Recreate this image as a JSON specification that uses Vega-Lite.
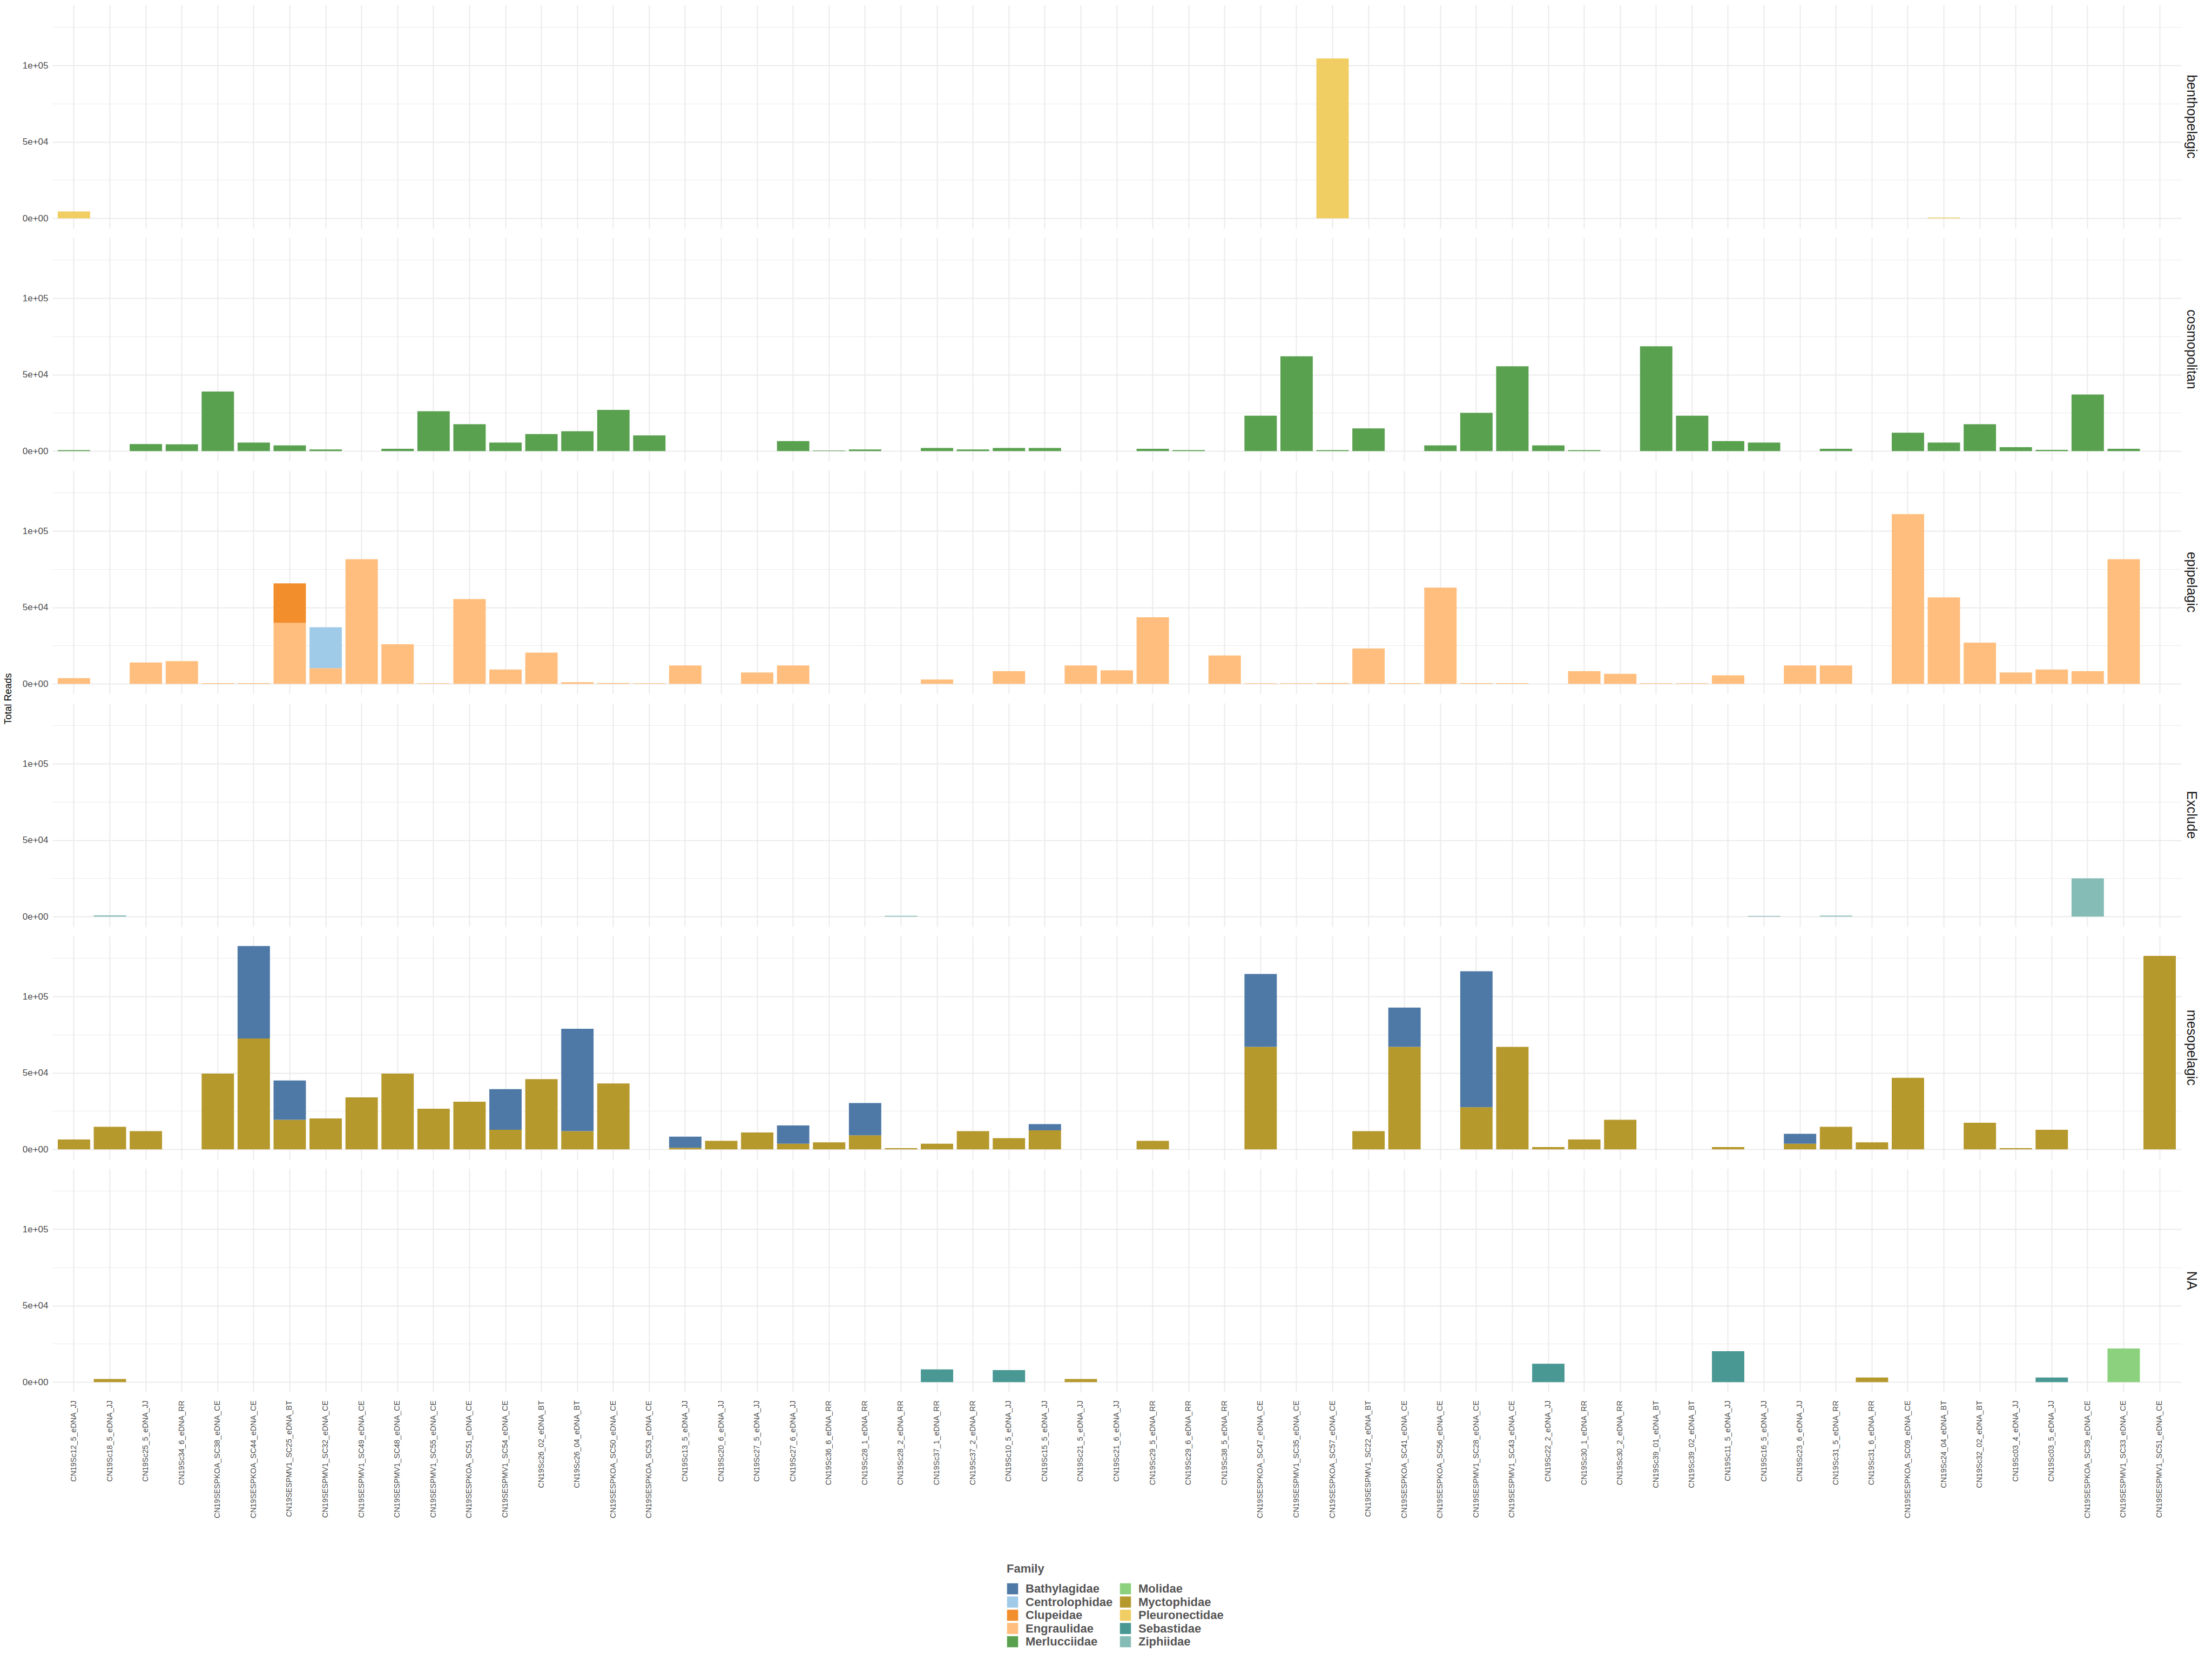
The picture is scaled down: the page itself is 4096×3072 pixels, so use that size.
{
"$schema": "https://vega.github.io/schema/vega-lite/v6.json",
"background": "white",
"padding": {"left": 6, "top": 9, "right": 6, "bottom": 4},
"data": {"values": [
{"habitat":"benthopelagic","sample":"CN19Sc12_5_eDNA_JJ","family":"Pleuronectidae","reads":4500},
{"habitat":"benthopelagic","sample":"CN19SESPKOA_SC57_eDNA_CE","family":"Pleuronectidae","reads":104600},
{"habitat":"benthopelagic","sample":"CN19Sc24_04_eDNA_BT","family":"Pleuronectidae","reads":500},

{"habitat":"cosmopolitan","sample":"CN19Sc12_5_eDNA_JJ","family":"Merlucciidae","reads":600},
{"habitat":"cosmopolitan","sample":"CN19Sc25_5_eDNA_JJ","family":"Merlucciidae","reads":4600},
{"habitat":"cosmopolitan","sample":"CN19Sc34_6_eDNA_RR","family":"Merlucciidae","reads":4400},
{"habitat":"cosmopolitan","sample":"CN19SESPKOA_SC38_eDNA_CE","family":"Merlucciidae","reads":38900},
{"habitat":"cosmopolitan","sample":"CN19SESPKOA_SC44_eDNA_CE","family":"Merlucciidae","reads":5500},
{"habitat":"cosmopolitan","sample":"CN19SESPMV1_SC25_eDNA_BT","family":"Merlucciidae","reads":3700},
{"habitat":"cosmopolitan","sample":"CN19SESPMV1_SC32_eDNA_CE","family":"Merlucciidae","reads":1000},
{"habitat":"cosmopolitan","sample":"CN19SESPMV1_SC48_eDNA_CE","family":"Merlucciidae","reads":1500},
{"habitat":"cosmopolitan","sample":"CN19SESPMV1_SC55_eDNA_CE","family":"Merlucciidae","reads":26000},
{"habitat":"cosmopolitan","sample":"CN19SESPKOA_SC51_eDNA_CE","family":"Merlucciidae","reads":17600},
{"habitat":"cosmopolitan","sample":"CN19SESPMV1_SC54_eDNA_CE","family":"Merlucciidae","reads":5500},
{"habitat":"cosmopolitan","sample":"CN19Sc26_02_eDNA_BT","family":"Merlucciidae","reads":11100},
{"habitat":"cosmopolitan","sample":"CN19Sc26_04_eDNA_BT","family":"Merlucciidae","reads":13000},
{"habitat":"cosmopolitan","sample":"CN19SESPKOA_SC50_eDNA_CE","family":"Merlucciidae","reads":26900},
{"habitat":"cosmopolitan","sample":"CN19SESPKOA_SC53_eDNA_CE","family":"Merlucciidae","reads":10200},
{"habitat":"cosmopolitan","sample":"CN19Sc27_6_eDNA_JJ","family":"Merlucciidae","reads":6500},
{"habitat":"cosmopolitan","sample":"CN19Sc36_6_eDNA_RR","family":"Merlucciidae","reads":300},
{"habitat":"cosmopolitan","sample":"CN19Sc28_1_eDNA_RR","family":"Merlucciidae","reads":1000},
{"habitat":"cosmopolitan","sample":"CN19Sc37_1_eDNA_RR","family":"Merlucciidae","reads":2000},
{"habitat":"cosmopolitan","sample":"CN19Sc37_2_eDNA_RR","family":"Merlucciidae","reads":1000},
{"habitat":"cosmopolitan","sample":"CN19Sc10_5_eDNA_JJ","family":"Merlucciidae","reads":2000},
{"habitat":"cosmopolitan","sample":"CN19Sc15_5_eDNA_JJ","family":"Merlucciidae","reads":2000},
{"habitat":"cosmopolitan","sample":"CN19Sc29_5_eDNA_RR","family":"Merlucciidae","reads":1500},
{"habitat":"cosmopolitan","sample":"CN19Sc29_6_eDNA_RR","family":"Merlucciidae","reads":600},
{"habitat":"cosmopolitan","sample":"CN19SESPKOA_SC47_eDNA_CE","family":"Merlucciidae","reads":23100},
{"habitat":"cosmopolitan","sample":"CN19SESPMV1_SC35_eDNA_CE","family":"Merlucciidae","reads":62000},
{"habitat":"cosmopolitan","sample":"CN19SESPKOA_SC57_eDNA_CE","family":"Merlucciidae","reads":600},
{"habitat":"cosmopolitan","sample":"CN19SESPMV1_SC22_eDNA_BT","family":"Merlucciidae","reads":14800},
{"habitat":"cosmopolitan","sample":"CN19SESPKOA_SC56_eDNA_CE","family":"Merlucciidae","reads":3700},
{"habitat":"cosmopolitan","sample":"CN19SESPMV1_SC28_eDNA_CE","family":"Merlucciidae","reads":25000},
{"habitat":"cosmopolitan","sample":"CN19SESPMV1_SC43_eDNA_CE","family":"Merlucciidae","reads":55500},
{"habitat":"cosmopolitan","sample":"CN19Sc22_2_eDNA_JJ","family":"Merlucciidae","reads":3700},
{"habitat":"cosmopolitan","sample":"CN19Sc30_1_eDNA_RR","family":"Merlucciidae","reads":600},
{"habitat":"cosmopolitan","sample":"CN19Sc39_01_eDNA_BT","family":"Merlucciidae","reads":68500},
{"habitat":"cosmopolitan","sample":"CN19Sc39_02_eDNA_BT","family":"Merlucciidae","reads":23100},
{"habitat":"cosmopolitan","sample":"CN19Sc11_5_eDNA_JJ","family":"Merlucciidae","reads":6500},
{"habitat":"cosmopolitan","sample":"CN19Sc16_5_eDNA_JJ","family":"Merlucciidae","reads":5500},
{"habitat":"cosmopolitan","sample":"CN19Sc31_5_eDNA_RR","family":"Merlucciidae","reads":1500},
{"habitat":"cosmopolitan","sample":"CN19SESPKOA_SC09_eDNA_CE","family":"Merlucciidae","reads":12000},
{"habitat":"cosmopolitan","sample":"CN19Sc24_04_eDNA_BT","family":"Merlucciidae","reads":5500},
{"habitat":"cosmopolitan","sample":"CN19Sc32_02_eDNA_BT","family":"Merlucciidae","reads":17600},
{"habitat":"cosmopolitan","sample":"CN19Sc03_4_eDNA_JJ","family":"Merlucciidae","reads":2500},
{"habitat":"cosmopolitan","sample":"CN19Sc03_5_eDNA_JJ","family":"Merlucciidae","reads":800},
{"habitat":"cosmopolitan","sample":"CN19SESPKOA_SC39_eDNA_CE","family":"Merlucciidae","reads":37000},
{"habitat":"cosmopolitan","sample":"CN19SESPMV1_SC33_eDNA_CE","family":"Merlucciidae","reads":1500},

{"habitat":"epipelagic","sample":"CN19Sc12_5_eDNA_JJ","family":"Engraulidae","reads":3700},
{"habitat":"epipelagic","sample":"CN19Sc25_5_eDNA_JJ","family":"Engraulidae","reads":13900},
{"habitat":"epipelagic","sample":"CN19Sc34_6_eDNA_RR","family":"Engraulidae","reads":14800},
{"habitat":"epipelagic","sample":"CN19SESPKOA_SC38_eDNA_CE","family":"Engraulidae","reads":400},
{"habitat":"epipelagic","sample":"CN19SESPKOA_SC44_eDNA_CE","family":"Engraulidae","reads":400},
{"habitat":"epipelagic","sample":"CN19SESPMV1_SC25_eDNA_BT","family":"Engraulidae","reads":39800},
{"habitat":"epipelagic","sample":"CN19SESPMV1_SC25_eDNA_BT","family":"Clupeidae","reads":25900},
{"habitat":"epipelagic","sample":"CN19SESPMV1_SC32_eDNA_CE","family":"Engraulidae","reads":10200},
{"habitat":"epipelagic","sample":"CN19SESPMV1_SC32_eDNA_CE","family":"Centrolophidae","reads":26800},
{"habitat":"epipelagic","sample":"CN19SESPMV1_SC49_eDNA_CE","family":"Engraulidae","reads":81500},
{"habitat":"epipelagic","sample":"CN19SESPMV1_SC48_eDNA_CE","family":"Engraulidae","reads":25900},
{"habitat":"epipelagic","sample":"CN19SESPMV1_SC55_eDNA_CE","family":"Engraulidae","reads":300},
{"habitat":"epipelagic","sample":"CN19SESPKOA_SC51_eDNA_CE","family":"Engraulidae","reads":55500},
{"habitat":"epipelagic","sample":"CN19SESPMV1_SC54_eDNA_CE","family":"Engraulidae","reads":9300},
{"habitat":"epipelagic","sample":"CN19Sc26_02_eDNA_BT","family":"Engraulidae","reads":20400},
{"habitat":"epipelagic","sample":"CN19Sc26_04_eDNA_BT","family":"Engraulidae","reads":1000},
{"habitat":"epipelagic","sample":"CN19SESPKOA_SC50_eDNA_CE","family":"Engraulidae","reads":500},
{"habitat":"epipelagic","sample":"CN19SESPKOA_SC53_eDNA_CE","family":"Engraulidae","reads":300},
{"habitat":"epipelagic","sample":"CN19Sc13_5_eDNA_JJ","family":"Engraulidae","reads":12000},
{"habitat":"epipelagic","sample":"CN19Sc27_5_eDNA_JJ","family":"Engraulidae","reads":7400},
{"habitat":"epipelagic","sample":"CN19Sc27_6_eDNA_JJ","family":"Engraulidae","reads":12000},
{"habitat":"epipelagic","sample":"CN19Sc37_1_eDNA_RR","family":"Engraulidae","reads":2800},
{"habitat":"epipelagic","sample":"CN19Sc10_5_eDNA_JJ","family":"Engraulidae","reads":8300},
{"habitat":"epipelagic","sample":"CN19Sc21_5_eDNA_JJ","family":"Engraulidae","reads":12000},
{"habitat":"epipelagic","sample":"CN19Sc21_6_eDNA_JJ","family":"Engraulidae","reads":8800},
{"habitat":"epipelagic","sample":"CN19Sc29_5_eDNA_RR","family":"Engraulidae","reads":43500},
{"habitat":"epipelagic","sample":"CN19Sc38_5_eDNA_RR","family":"Engraulidae","reads":18500},
{"habitat":"epipelagic","sample":"CN19SESPKOA_SC47_eDNA_CE","family":"Engraulidae","reads":300},
{"habitat":"epipelagic","sample":"CN19SESPMV1_SC35_eDNA_CE","family":"Engraulidae","reads":300},
{"habitat":"epipelagic","sample":"CN19SESPKOA_SC57_eDNA_CE","family":"Engraulidae","reads":500},
{"habitat":"epipelagic","sample":"CN19SESPMV1_SC22_eDNA_BT","family":"Engraulidae","reads":23100},
{"habitat":"epipelagic","sample":"CN19SESPKOA_SC41_eDNA_CE","family":"Engraulidae","reads":400},
{"habitat":"epipelagic","sample":"CN19SESPKOA_SC56_eDNA_CE","family":"Engraulidae","reads":63000},
{"habitat":"epipelagic","sample":"CN19SESPMV1_SC28_eDNA_CE","family":"Engraulidae","reads":400},
{"habitat":"epipelagic","sample":"CN19SESPMV1_SC43_eDNA_CE","family":"Engraulidae","reads":400},
{"habitat":"epipelagic","sample":"CN19Sc30_1_eDNA_RR","family":"Engraulidae","reads":8300},
{"habitat":"epipelagic","sample":"CN19Sc30_2_eDNA_RR","family":"Engraulidae","reads":6500},
{"habitat":"epipelagic","sample":"CN19Sc39_01_eDNA_BT","family":"Engraulidae","reads":300},
{"habitat":"epipelagic","sample":"CN19Sc39_02_eDNA_BT","family":"Engraulidae","reads":300},
{"habitat":"epipelagic","sample":"CN19Sc11_5_eDNA_JJ","family":"Engraulidae","reads":5500},
{"habitat":"epipelagic","sample":"CN19Sc23_6_eDNA_JJ","family":"Engraulidae","reads":12000},
{"habitat":"epipelagic","sample":"CN19Sc31_5_eDNA_RR","family":"Engraulidae","reads":12000},
{"habitat":"epipelagic","sample":"CN19SESPKOA_SC09_eDNA_CE","family":"Engraulidae","reads":111000},
{"habitat":"epipelagic","sample":"CN19Sc24_04_eDNA_BT","family":"Engraulidae","reads":56500},
{"habitat":"epipelagic","sample":"CN19Sc32_02_eDNA_BT","family":"Engraulidae","reads":26900},
{"habitat":"epipelagic","sample":"CN19Sc03_4_eDNA_JJ","family":"Engraulidae","reads":7400},
{"habitat":"epipelagic","sample":"CN19Sc03_5_eDNA_JJ","family":"Engraulidae","reads":9300},
{"habitat":"epipelagic","sample":"CN19SESPKOA_SC39_eDNA_CE","family":"Engraulidae","reads":8300},
{"habitat":"epipelagic","sample":"CN19SESPMV1_SC33_eDNA_CE","family":"Engraulidae","reads":81500},

{"habitat":"Exclude","sample":"CN19Sc18_5_eDNA_JJ","family":"Ziphiidae","reads":800},
{"habitat":"Exclude","sample":"CN19Sc28_2_eDNA_RR","family":"Ziphiidae","reads":500},
{"habitat":"Exclude","sample":"CN19Sc16_5_eDNA_JJ","family":"Ziphiidae","reads":400},
{"habitat":"Exclude","sample":"CN19Sc31_5_eDNA_RR","family":"Ziphiidae","reads":600},
{"habitat":"Exclude","sample":"CN19SESPKOA_SC39_eDNA_CE","family":"Ziphiidae","reads":25000},

{"habitat":"mesopelagic","sample":"CN19Sc12_5_eDNA_JJ","family":"Myctophidae","reads":6400},
{"habitat":"mesopelagic","sample":"CN19Sc18_5_eDNA_JJ","family":"Myctophidae","reads":14700},
{"habitat":"mesopelagic","sample":"CN19Sc25_5_eDNA_JJ","family":"Myctophidae","reads":11900},
{"habitat":"mesopelagic","sample":"CN19SESPKOA_SC38_eDNA_CE","family":"Myctophidae","reads":49500},
{"habitat":"mesopelagic","sample":"CN19SESPKOA_SC44_eDNA_CE","family":"Myctophidae","reads":72500},
{"habitat":"mesopelagic","sample":"CN19SESPKOA_SC44_eDNA_CE","family":"Bathylagidae","reads":60500},
{"habitat":"mesopelagic","sample":"CN19SESPMV1_SC25_eDNA_BT","family":"Myctophidae","reads":19300},
{"habitat":"mesopelagic","sample":"CN19SESPMV1_SC25_eDNA_BT","family":"Bathylagidae","reads":25700},
{"habitat":"mesopelagic","sample":"CN19SESPMV1_SC32_eDNA_CE","family":"Myctophidae","reads":20200},
{"habitat":"mesopelagic","sample":"CN19SESPMV1_SC49_eDNA_CE","family":"Myctophidae","reads":34000},
{"habitat":"mesopelagic","sample":"CN19SESPMV1_SC48_eDNA_CE","family":"Myctophidae","reads":49500},
{"habitat":"mesopelagic","sample":"CN19SESPMV1_SC55_eDNA_CE","family":"Myctophidae","reads":26600},
{"habitat":"mesopelagic","sample":"CN19SESPKOA_SC51_eDNA_CE","family":"Myctophidae","reads":31200},
{"habitat":"mesopelagic","sample":"CN19SESPMV1_SC54_eDNA_CE","family":"Myctophidae","reads":12800},
{"habitat":"mesopelagic","sample":"CN19SESPMV1_SC54_eDNA_CE","family":"Bathylagidae","reads":26600},
{"habitat":"mesopelagic","sample":"CN19Sc26_02_eDNA_BT","family":"Myctophidae","reads":45900},
{"habitat":"mesopelagic","sample":"CN19Sc26_04_eDNA_BT","family":"Myctophidae","reads":11900},
{"habitat":"mesopelagic","sample":"CN19Sc26_04_eDNA_BT","family":"Bathylagidae","reads":67000},
{"habitat":"mesopelagic","sample":"CN19SESPKOA_SC50_eDNA_CE","family":"Myctophidae","reads":43100},
{"habitat":"mesopelagic","sample":"CN19Sc13_5_eDNA_JJ","family":"Myctophidae","reads":1000},
{"habitat":"mesopelagic","sample":"CN19Sc13_5_eDNA_JJ","family":"Bathylagidae","reads":7300},
{"habitat":"mesopelagic","sample":"CN19Sc20_6_eDNA_JJ","family":"Myctophidae","reads":5500},
{"habitat":"mesopelagic","sample":"CN19Sc27_5_eDNA_JJ","family":"Myctophidae","reads":11000},
{"habitat":"mesopelagic","sample":"CN19Sc27_6_eDNA_JJ","family":"Myctophidae","reads":3700},
{"habitat":"mesopelagic","sample":"CN19Sc27_6_eDNA_JJ","family":"Bathylagidae","reads":11900},
{"habitat":"mesopelagic","sample":"CN19Sc36_6_eDNA_RR","family":"Myctophidae","reads":4600},
{"habitat":"mesopelagic","sample":"CN19Sc28_1_eDNA_RR","family":"Myctophidae","reads":9200},
{"habitat":"mesopelagic","sample":"CN19Sc28_1_eDNA_RR","family":"Bathylagidae","reads":21100},
{"habitat":"mesopelagic","sample":"CN19Sc28_2_eDNA_RR","family":"Myctophidae","reads":800},
{"habitat":"mesopelagic","sample":"CN19Sc37_1_eDNA_RR","family":"Myctophidae","reads":3700},
{"habitat":"mesopelagic","sample":"CN19Sc37_2_eDNA_RR","family":"Myctophidae","reads":11900},
{"habitat":"mesopelagic","sample":"CN19Sc10_5_eDNA_JJ","family":"Myctophidae","reads":7300},
{"habitat":"mesopelagic","sample":"CN19Sc15_5_eDNA_JJ","family":"Myctophidae","reads":12400},
{"habitat":"mesopelagic","sample":"CN19Sc15_5_eDNA_JJ","family":"Bathylagidae","reads":4100},
{"habitat":"mesopelagic","sample":"CN19Sc29_5_eDNA_RR","family":"Myctophidae","reads":5500},
{"habitat":"mesopelagic","sample":"CN19SESPKOA_SC47_eDNA_CE","family":"Myctophidae","reads":67000},
{"habitat":"mesopelagic","sample":"CN19SESPKOA_SC47_eDNA_CE","family":"Bathylagidae","reads":47700},
{"habitat":"mesopelagic","sample":"CN19SESPMV1_SC22_eDNA_BT","family":"Myctophidae","reads":11900},
{"habitat":"mesopelagic","sample":"CN19SESPKOA_SC41_eDNA_CE","family":"Myctophidae","reads":67000},
{"habitat":"mesopelagic","sample":"CN19SESPKOA_SC41_eDNA_CE","family":"Bathylagidae","reads":25700},
{"habitat":"mesopelagic","sample":"CN19SESPMV1_SC28_eDNA_CE","family":"Myctophidae","reads":27500},
{"habitat":"mesopelagic","sample":"CN19SESPMV1_SC28_eDNA_CE","family":"Bathylagidae","reads":89000},
{"habitat":"mesopelagic","sample":"CN19SESPMV1_SC43_eDNA_CE","family":"Myctophidae","reads":67000},
{"habitat":"mesopelagic","sample":"CN19Sc22_2_eDNA_JJ","family":"Myctophidae","reads":1500},
{"habitat":"mesopelagic","sample":"CN19Sc30_1_eDNA_RR","family":"Myctophidae","reads":6400},
{"habitat":"mesopelagic","sample":"CN19Sc30_2_eDNA_RR","family":"Myctophidae","reads":19300},
{"habitat":"mesopelagic","sample":"CN19Sc11_5_eDNA_JJ","family":"Myctophidae","reads":1500},
{"habitat":"mesopelagic","sample":"CN19Sc23_6_eDNA_JJ","family":"Myctophidae","reads":3700},
{"habitat":"mesopelagic","sample":"CN19Sc23_6_eDNA_JJ","family":"Bathylagidae","reads":6400},
{"habitat":"mesopelagic","sample":"CN19Sc31_5_eDNA_RR","family":"Myctophidae","reads":14700},
{"habitat":"mesopelagic","sample":"CN19Sc31_6_eDNA_RR","family":"Myctophidae","reads":4600},
{"habitat":"mesopelagic","sample":"CN19SESPKOA_SC09_eDNA_CE","family":"Myctophidae","reads":46800},
{"habitat":"mesopelagic","sample":"CN19Sc32_02_eDNA_BT","family":"Myctophidae","reads":17400},
{"habitat":"mesopelagic","sample":"CN19Sc03_4_eDNA_JJ","family":"Myctophidae","reads":800},
{"habitat":"mesopelagic","sample":"CN19Sc03_5_eDNA_JJ","family":"Myctophidae","reads":12800},
{"habitat":"mesopelagic","sample":"CN19SESPMV1_SC51_eDNA_CE","family":"Myctophidae","reads":126600},

{"habitat":"NA","sample":"CN19Sc18_5_eDNA_JJ","family":"Myctophidae","reads":2000},
{"habitat":"NA","sample":"CN19Sc37_1_eDNA_RR","family":"Sebastidae","reads":8300},
{"habitat":"NA","sample":"CN19Sc10_5_eDNA_JJ","family":"Sebastidae","reads":7800},
{"habitat":"NA","sample":"CN19Sc21_5_eDNA_JJ","family":"Myctophidae","reads":2000},
{"habitat":"NA","sample":"CN19Sc22_2_eDNA_JJ","family":"Sebastidae","reads":12000},
{"habitat":"NA","sample":"CN19Sc11_5_eDNA_JJ","family":"Sebastidae","reads":20200},
{"habitat":"NA","sample":"CN19Sc31_6_eDNA_RR","family":"Myctophidae","reads":3000},
{"habitat":"NA","sample":"CN19Sc03_5_eDNA_JJ","family":"Sebastidae","reads":3000},
{"habitat":"NA","sample":"CN19SESPMV1_SC33_eDNA_CE","family":"Molidae","reads":22000}
]},
"facet": {
  "row": {
    "field": "habitat", "type": "nominal",
    "sort": ["benthopelagic","cosmopolitan","epipelagic","Exclude","mesopelagic","NA"],
    "header": {
      "title": "Total Reads", "titleOrient": "left", "titleFontSize": 18, "titleFontWeight": "normal",
      "titleColor": "#000000", "titleFont": "Liberation Sans", "titlePadding": 6,
      "labelOrient": "right", "labelAngle": 90, "labelFontSize": 25, "labelColor": "#1A1A1A",
      "labelFont": "Liberation Sans", "labelPadding": 6
    }
  }
},
"spacing": 17,
"spec": {
  "width": 3942,
  "height": 414,
  "mark": {"type": "bar"},
  "encoding": {
    "x": {
      "field": "sample", "type": "nominal",
      "scale": {"domain": ["CN19Sc12_5_eDNA_JJ","CN19Sc18_5_eDNA_JJ","CN19Sc25_5_eDNA_JJ","CN19Sc34_6_eDNA_RR","CN19SESPKOA_SC38_eDNA_CE","CN19SESPKOA_SC44_eDNA_CE","CN19SESPMV1_SC25_eDNA_BT","CN19SESPMV1_SC32_eDNA_CE","CN19SESPMV1_SC49_eDNA_CE","CN19SESPMV1_SC48_eDNA_CE","CN19SESPMV1_SC55_eDNA_CE","CN19SESPKOA_SC51_eDNA_CE","CN19SESPMV1_SC54_eDNA_CE","CN19Sc26_02_eDNA_BT","CN19Sc26_04_eDNA_BT","CN19SESPKOA_SC50_eDNA_CE","CN19SESPKOA_SC53_eDNA_CE","CN19Sc13_5_eDNA_JJ","CN19Sc20_6_eDNA_JJ","CN19Sc27_5_eDNA_JJ","CN19Sc27_6_eDNA_JJ","CN19Sc36_6_eDNA_RR","CN19Sc28_1_eDNA_RR","CN19Sc28_2_eDNA_RR","CN19Sc37_1_eDNA_RR","CN19Sc37_2_eDNA_RR","CN19Sc10_5_eDNA_JJ","CN19Sc15_5_eDNA_JJ","CN19Sc21_5_eDNA_JJ","CN19Sc21_6_eDNA_JJ","CN19Sc29_5_eDNA_RR","CN19Sc29_6_eDNA_RR","CN19Sc38_5_eDNA_RR","CN19SESPKOA_SC47_eDNA_CE","CN19SESPMV1_SC35_eDNA_CE","CN19SESPKOA_SC57_eDNA_CE","CN19SESPMV1_SC22_eDNA_BT","CN19SESPKOA_SC41_eDNA_CE","CN19SESPKOA_SC56_eDNA_CE","CN19SESPMV1_SC28_eDNA_CE","CN19SESPMV1_SC43_eDNA_CE","CN19Sc22_2_eDNA_JJ","CN19Sc30_1_eDNA_RR","CN19Sc30_2_eDNA_RR","CN19Sc39_01_eDNA_BT","CN19Sc39_02_eDNA_BT","CN19Sc11_5_eDNA_JJ","CN19Sc16_5_eDNA_JJ","CN19Sc23_6_eDNA_JJ","CN19Sc31_5_eDNA_RR","CN19Sc31_6_eDNA_RR","CN19SESPKOA_SC09_eDNA_CE","CN19Sc24_04_eDNA_BT","CN19Sc32_02_eDNA_BT","CN19Sc03_4_eDNA_JJ","CN19Sc03_5_eDNA_JJ","CN19SESPKOA_SC39_eDNA_CE","CN19SESPMV1_SC33_eDNA_CE","CN19SESPMV1_SC51_eDNA_CE"],
        "paddingInner": 0.1, "paddingOuter": 0.15},
      "axis": {
        "title": null, "labelAngle": 270, "labelFontSize": 14, "labelColor": "#4D4D4D",
        "labelFont": "Liberation Sans", "ticks": false, "domain": false, "grid": true,
        "gridColor": "#EBEBEB", "gridWidth": 2, "bandPosition": 0.5, "labelPadding": 15,
        "labelOverlap": false, "labelLimit": 0
      }
    },
    "y": {
      "field": "reads", "type": "quantitative", "stack": "zero",
      "scale": {"domain": [-6650, 139650], "nice": false, "zero": false},
      "axis": {
        "title": null, "values": [0, 25000, 50000, 75000, 100000, 125000],
        "labelExpr": "datum.value === 0 ? '0e+00' : datum.value === 50000 ? '5e+04' : datum.value === 100000 ? '1e+05' : ''",
        "ticks": false, "domain": false, "labelFontSize": 17, "labelColor": "#4D4D4D",
        "labelFont": "Liberation Sans", "labelPadding": 8, "labelOverlap": false,
        "gridColor": "#EBEBEB",
        "gridWidth": {"condition": {"test": "datum.value % 50000 === 0", "value": 2}, "value": 1}
      }
    },
    "color": {
      "field": "family", "type": "nominal",
      "scale": {
        "domain": ["Bathylagidae","Centrolophidae","Clupeidae","Engraulidae","Merlucciidae","Molidae","Myctophidae","Pleuronectidae","Sebastidae","Ziphiidae"],
        "range": ["#4E79A7","#A0CBE8","#F28E2B","#FFBE7D","#59A14F","#8CD17D","#B6992D","#F1CE63","#499894","#86BCB6"]
      },
      "legend": {
        "orient": "none", "legendX": 1767, "legendY": 2886, "direction": "vertical", "columns": 2,
        "title": "Family", "titleFontSize": 22, "titleFontWeight": "bold", "titleColor": "#555555",
        "titleFont": "Liberation Sans", "titlePadding": 14,
        "labelFontSize": 22, "labelFontWeight": "bold", "labelColor": "#555555", "labelFont": "Liberation Sans",
        "labelLimit": 0,
        "symbolType": "square", "symbolSize": 420, "symbolStrokeWidth": 0, "symbolOpacity": 1,
        "rowPadding": 2.5, "columnPadding": 12, "labelOffset": 13
      }
    },
    "order": {"field": "family", "sort": "descending"}
  }
},
"config": {"view": {"stroke": null}, "font": "Liberation Sans"}
}
